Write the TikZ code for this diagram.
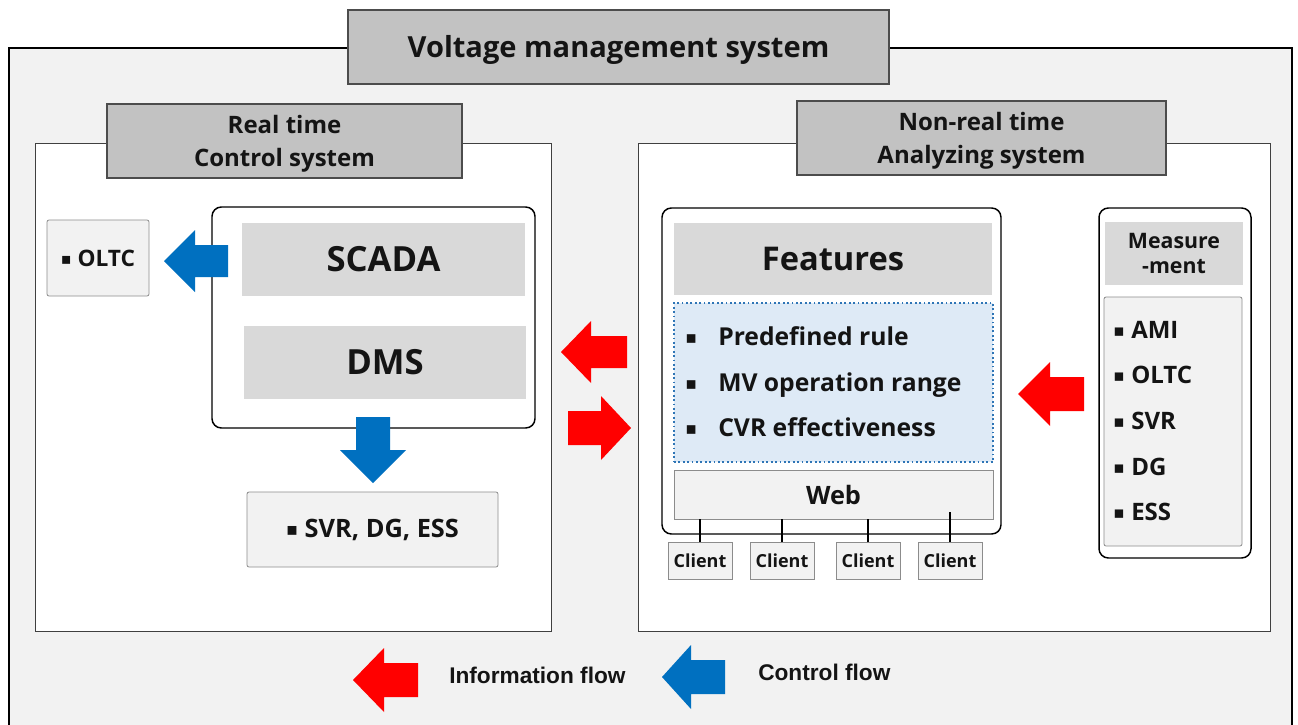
\documentclass[tikz,border=0pt]{standalone}
\usepackage{fontspec}
\usepackage{graphicx}
\setmainfont{Open Sans}
\newfontfamily\legendfont{Liberation Sans}
\newfontfamily\symfont{DejaVu Sans}

\definecolor{ctrlblue}{HTML}{0070C0}
\definecolor{infored}{HTML}{FF0000}
\definecolor{hdrgray}{HTML}{C2C2C2}
\definecolor{bandgray}{HTML}{D9D9D9}
\definecolor{lightfill}{HTML}{F2F2F2}
\definecolor{featblue}{HTML}{DEEAF6}
\definecolor{dotblue}{HTML}{2E75B6}

% small square bullet
\newcommand\sqb{\raisebox{0.08em}{\scalebox{0.7}{\symfont\char"25AA}}}
% block arrow: colour, tip, direction, length, head length, half body, half head
\newcommand\fatarrow[7]{%
  \fill[#1,shift={(#2)},rotate=#3] (0,0) -- (-#5,#7) -- (-#5,#6) -- (-#4,#6)
    -- (-#4,-#6) -- (-#5,-#6) -- (-#5,-#7) -- cycle;}
\newcommand\fs[2][1.2]{\fontsize{#2pt}{\dimexpr #2pt*\numexpr\fpeval{round(#1*100)}\relax/100\relax}\selectfont}
% rectangle node from corner to corner: style, x1, y1, x2, y2, name, text
\newcommand\bx[7]{%
  \node[#1, minimum width={((#4)-(#2))*0.75pt}, minimum height={((#5)-(#3))*0.75pt}]
    (#6) at ({((#2)+(#4))/2},{((#3)+(#5))/2}) {#7};}

\begin{document}
\begin{tikzpicture}[x=0.75pt,y=-0.75pt,
  box/.style={inner sep=0pt, outer sep=0pt, align=center, text=black!92},
  hdr/.style={box, draw=black!70, fill=hdrgray, line width=0.8pt},
  hdrtext/.style={box, font=\fs[1.38]{18}\bfseries},
  panel/.style={box, draw=black!75, fill=white, line width=0.7pt},
  holder/.style={box, draw=black, fill=white, line width=1.1pt, rounded corners=7pt},
  band/.style={box, fill=bandgray},
  itembox/.style={box, draw=black!45, fill=lightfill, line width=0.6pt, rounded corners=1.5pt},
  label/.style={inner sep=0pt, anchor=mid west, text=black!92},
  wire/.style={line width=2.1pt}
]
\useasboundingbox (0,0) rectangle (1298,724);

% outer frame (its lower edge runs off the page)
\bx{box, draw=black, fill=lightfill, line width=1.9pt}{9}{48}{1292}{740}{vms}{}
\bx{hdr}{348}{10}{889}{84}{title}{}
\node[box, font=\fs{21.8}\bfseries] (titletext) at ([yshift=-2.5pt]title.center) {Voltage management system};

% the two panels
\bx{panel}{35}{143}{551}{631}{rtpanel}{}
\bx{panel}{638}{143}{1270}{631}{nrtpanel}{}
\bx{hdr}{107}{104}{462}{178}{rthdr}{}
\node[hdrtext] (rthdrtext) at ([yshift=-1.8pt]rthdr.center) {Real time\\Control system};
\bx{hdr}{797}{101}{1166}{175}{nrthdr}{}
\node[hdrtext] (nrthdrtext) at ([yshift=-1.8pt]nrthdr.center) {Non-real time\\Analyzing system};

% real time side
\bx{holder}{212}{207}{535}{428}{ctrl}{}
\bx{band, font=\fs{26}\bfseries}{242}{223}{525}{296}{scada}{SCADA}
\bx{band, font=\fs{26}\bfseries}{244}{326}{526}{399}{dms}{DMS}
\bx{itembox, font=\fs{17}\bfseries}{47}{220}{149}{296}{oltc}{\sqb\ OLTC}
\bx{itembox, font=\fs{19}\bfseries}{247}{492}{498}{567}{svr}{\sqb\ SVR, DG, ESS}

% non-real time side
\bx{holder}{662}{208}{1001}{534}{feat}{}
\bx{band, font=\fs{24.5}\bfseries}{674}{223}{992}{295}{feathdr}{Features}
\bx{box, draw=dotblue, dotted, line width=1.3pt, fill=featblue}{674}{303}{993}{462}{rules}{}
\foreach \t/\y [count=\i] in {Predefined rule/342, MV operation range/388, CVR effectiveness/433}{
  \node[label, font=\fs{18.5}] (rb\i) at (685,\y) {\sqb};
  \node[label, font=\fs{18.5}\bfseries] (rt\i) at (718,\y) {\t};
}
\bx{itembox, rounded corners=0pt, font=\fs{19}\bfseries}{674}{470}{993}{519}{web}{Web}
\foreach \x [count=\i] in {700,782,868,950}{
  \bx{itembox, rounded corners=0pt, font=\fs{13.5}\bfseries}{\x-32}{542}{\x+32}{579}{c\i}{Client}
}
\draw[wire] (c1.north) -- (c1.north |- web.south);
\draw[wire] (c2.north) -- (c2.north |- web.south);
\draw[wire] (c3.north) -- (c3.north |- web.south);
\coordinate (w4) at (950,512);
\draw[wire] (c4.north) -- (w4);

\bx{holder}{1099}{208}{1251}{558}{meas}{}
\bx{band, font=\fs{16}\bfseries}{1105}{222}{1243}{285}{meashdr}{Measure\\-ment}
\bx{itembox}{1104}{297}{1242}{546}{mlist}{}
\foreach \t/\y [count=\i] in {AMI/335, OLTC/380, SVR/426, DG/472, ESS/517}{
  \node[label, font=\fs{18}] (mb\i) at (1113,\y) {\sqb};
  \node[label, font=\fs{18}\bfseries] (mt\i) at (1131,\y) {\t};
}

% control and information flows
\fatarrow{ctrlblue}{164,261}{180}{64}{31}{16}{31}
\fatarrow{ctrlblue}{373,483}{-90}{66}{33}{17}{33}
\fatarrow{infored}{561,352}{180}{66}{30}{16}{31}
\fatarrow{infored}{631,428}{0}{63}{30}{17}{32}
\fatarrow{infored}{1018,394}{180}{66}{32}{17}{32}

% legend
\fatarrow{infored}{353,680}{180}{65}{31}{17}{32}
\node[label, font=\legendfont\fs{17}\bfseries] (infolbl) at (449,680) {Information flow};
\fatarrow{ctrlblue}{662,677}{180}{63}{29}{17}{32}
\node[label, font=\legendfont\fs{17}\bfseries] (ctrllbl) at (758,677) {Control flow};
\end{tikzpicture}
\end{document}
